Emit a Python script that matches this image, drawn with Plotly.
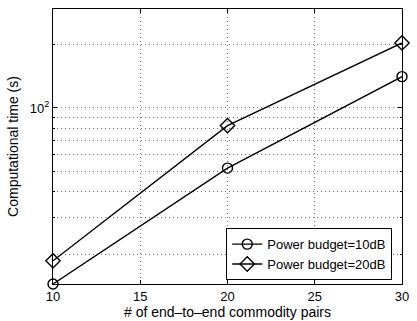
import plotly.graph_objects as go
import numpy as np

# Number of end-to-end commodity pairs
pairs = [10, 20, 30]
# Computational time (s) for each power budget
time_10db = [14.5, 51.7, 141]
time_20db = [18.7, 82.4, 204]

series_names = ["Power budget=10dB", "Power budget=20dB"]

x_ticks = [10, 15, 20, 25, 30]
y_major = [100]
y_major_text = ["10<sup>2</sup>"]
y_minor = [20, 30, 40, 50, 60, 70, 80, 90, 200]

family = "Liberation Sans, Arial, sans-serif"
grid_dash = "1px,3px"
grid_color = "#777777"

fig = go.Figure()
fig.add_trace(go.Scatter(
    x=pairs, y=time_10db, name=series_names[0], mode="lines+markers",
    line=dict(color="black", width=1.4),
    marker=dict(symbol="circle-open", size=10, color="black", line=dict(width=1.4)),
    cliponaxis=False,
))
fig.add_trace(go.Scatter(
    x=pairs, y=time_20db, name=series_names[1], mode="lines+markers",
    line=dict(color="black", width=1.4),
    marker=dict(symbol="diamond-open", size=11, color="black", line=dict(width=1.4)),
    cliponaxis=False,
))

fig.update_layout(
    width=417, height=321,
    margin=dict(l=53, r=9, t=8, b=33),
    paper_bgcolor="white", plot_bgcolor="white",
    font=dict(family=family, size=13, color="black"),
    showlegend=True,
    legend=dict(
        x=0.972, y=0.014, xanchor="right", yanchor="bottom",
        bordercolor="black", borderwidth=1, bgcolor="white",
        font=dict(family=family, size=13, color="black"),
        tracegroupgap=0, itemwidth=30,
    ),
)

fig.update_xaxes(
    range=[10, 30], tickvals=x_ticks, ticktext=[str(v) for v in x_ticks],
    showline=True, linecolor="black", linewidth=1, mirror="ticks",
    ticks="inside", ticklen=4, tickcolor="black",
    showgrid=True, gridcolor=grid_color, griddash=grid_dash, gridwidth=1,
    zeroline=False,
    title=dict(text="# of end\u2013to\u2013end commodity pairs", standoff=0,
               font=dict(size=14)),
    tickfont=dict(size=13),
)

fig.update_yaxes(
    type="log", range=[np.log10(14.5), np.log10(296)],
    tickvals=y_major, ticktext=y_major_text,
    showline=True, linecolor="black", linewidth=1, mirror="ticks",
    ticks="inside", ticklen=4, tickcolor="black",
    showgrid=True, gridcolor=grid_color, griddash=grid_dash, gridwidth=1,
    minor=dict(tickvals=y_minor, ticks="inside", ticklen=2, tickcolor="black",
               showgrid=True, gridcolor=grid_color, griddash=grid_dash, gridwidth=1),
    zeroline=False,
    title=dict(text="Computational time (s)", standoff=7, font=dict(size=14)),
    tickfont=dict(size=13),
)

fig.write_html("out.html")
